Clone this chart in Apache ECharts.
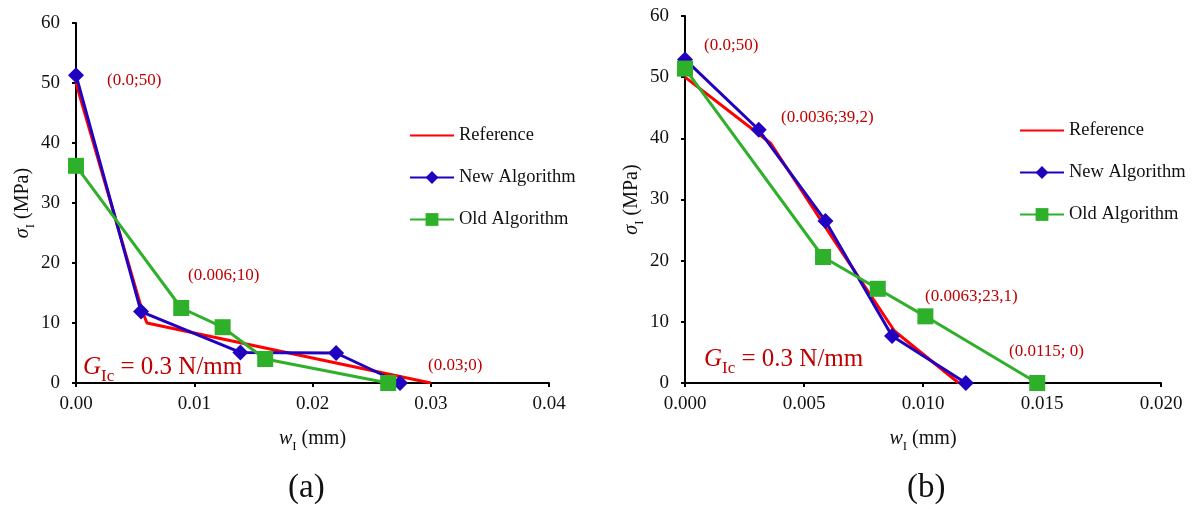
<!DOCTYPE html>
<html>
<head>
<meta charset="utf-8">
<script src="https://cdn.jsdelivr.net/npm/echarts@6/dist/echarts.min.js"></script>
<style>
  html, body { margin: 0; padding: 0; background: #fff; }
  #main { width: 1198px; height: 509px; }
</style>
</head>
<body>
<div id="main"></div>
<script>
// (a) data: [w, sigma]
var refA = [[0, 50], [0.0056, 12], [0.006, 10], [0.03, 0]];
var newA = [[0, 51.3], [0.0055, 11.9], [0.0139, 5.1], [0.022, 5.0], [0.0274, 0]];
var oldA = [[0, 36.2], [0.0089, 12.5], [0.0124, 9.3], [0.016, 4.0], [0.0264, 0]];
// (b)
var refB = [[0, 50], [0.0036, 39.2], [0.0063, 23.1], [0.0088, 8.5], [0.0115, 0]];
var newB = [[0, 52.9], [0.0031, 41.4], [0.0059, 26.5], [0.0087, 7.7], [0.0118, 0]];
var oldB = [[0, 51.4], [0.0058, 20.6], [0.0081, 15.4], [0.0101, 10.9], [0.0148, 0]];

var names = ['Reference', 'New Algorithm', 'Old Algorithm'];
var xMaxA = 0.04, xStepA = 0.01;
var xMaxB = 0.02, xStepB = 0.005;
var yMax = 60, yStep = 10;

var serif = 'Liberation Serif';
var RED = '#ff0000', BLUE = '#2200c0', GREEN = '#2fb02a', DARKRED = '#c00000';

var myChart = echarts.init(document.getElementById('main'));

var subRich = {
    i: { fontFamily: serif, fontStyle: 'italic', fontSize: 20, color: '#111', verticalAlign: 'bottom', padding: [0, 0, 4, 0] },
    s: { fontFamily: serif, fontSize: 13, color: '#111', verticalAlign: 'bottom' },
    t: { fontFamily: serif, fontSize: 20, color: '#111', verticalAlign: 'bottom', padding: [0, 0, 4, 0] }
};

function xAxisOf(idx, max, step, digits) {
    return {
        type: 'value', gridIndex: idx, min: 0, max: max, interval: step,
        name: '{i|w}{s|I}{t| (mm)}',
        nameLocation: 'middle', nameGap: 46,
        nameTextStyle: { rich: subRich },
        axisLine: { lineStyle: { color: '#000', width: 2 } },
        axisTick: { show: true, inside: false, length: 4, lineStyle: { color: '#000', width: 2 } },
        axisLabel: {
            color: '#111', fontFamily: serif, fontSize: 19, margin: 12,
            formatter: function (v) { return v.toFixed(digits); }
        },
        splitLine: { show: false }
    };
}
function yAxisOf(idx) {
    return {
        type: 'value', gridIndex: idx, min: 0, max: yMax, interval: yStep,
        name: '{i|σ}{s|I}{t| (MPa)}',
        nameLocation: 'middle', nameGap: 39, nameRotate: 90,
        nameTextStyle: { rich: subRich },
        axisLine: { show: true, lineStyle: { color: '#000', width: 2 } },
        axisTick: { show: true, inside: false, length: 4, lineStyle: { color: '#000', width: 2 } },
        axisLabel: { color: '#111', fontFamily: serif, fontSize: 19, margin: 16 },
        splitLine: { show: false }
    };
}

function seriesOf(idx, ref, nw, od) {
    return [
        { name: names[0], type: 'line', xAxisIndex: idx, yAxisIndex: idx, data: ref,
          showSymbol: false, symbol: 'none', lineStyle: { color: RED, width: 3 }, itemStyle: { color: RED } },
        { name: names[1], type: 'line', xAxisIndex: idx, yAxisIndex: idx, data: nw,
          symbol: 'diamond', symbolSize: 16, lineStyle: { color: BLUE, width: 3 }, itemStyle: { color: BLUE } },
        { name: names[2], type: 'line', xAxisIndex: idx, yAxisIndex: idx, data: od,
          symbol: 'rect', symbolSize: 16, lineStyle: { color: GREEN, width: 3 }, itemStyle: { color: GREEN } }
    ];
}

function legendAt(left, top) {
    return {
        data: [
            { name: names[0], itemStyle: { opacity: 0 } },
            { name: names[1] },
            { name: names[2] }
        ],
        orient: 'vertical', left: left, top: top,
        itemWidth: 44, itemHeight: 16, itemGap: 23, selectedMode: false,
        textStyle: { fontFamily: serif, fontSize: 18.5, color: '#111' }
    };
}

function note(text, left, top) {
    return { type: 'text', left: left, top: top,
             style: { text: text, fill: DARKRED, font: '17px "Liberation Serif"' } };
}
function gic(left, top) {
    return { type: 'text', left: left, top: top,
             style: { text: '{g|G}{s|Ic}{n| = 0.3 N/mm}',
                      rich: {
                          g: { fontFamily: serif, fontStyle: 'italic', fontSize: 25, fill: DARKRED, verticalAlign: 'bottom', padding: [0, 0, 5, 0] },
                          s: { fontFamily: serif, fontSize: 17, fill: DARKRED, verticalAlign: 'bottom' },
                          n: { fontFamily: serif, fontSize: 25, fill: DARKRED, verticalAlign: 'bottom', padding: [0, 0, 5, 0] }
                      } } };
}

var option = {
    backgroundColor: '#fff',
    animation: false,
    grid: [
        { left: 76, top: 23, width: 473, height: 360 },
        { left: 685, top: 16, width: 476, height: 367 }
    ],
    xAxis: [xAxisOf(0, xMaxA, xStepA, 2), xAxisOf(1, xMaxB, xStepB, 3)],
    yAxis: [yAxisOf(0), yAxisOf(1)],
    legend: [legendAt(404, 121), legendAt(1014, 116)],
    series: seriesOf(0, refA, newA, oldA).concat(seriesOf(1, refB, newB, oldB)),
    graphic: [
        note('(0.0;50)', 107, 72),
        note('(0.006;10)', 188, 267),
        note('(0.03;0)', 428, 357),
        gic(83, 355),
        note('(0.0;50)', 704, 37),
        note('(0.0036;39,2)', 781, 109),
        note('(0.0063;23,1)', 925, 288),
        note('(0.0115; 0)', 1009, 343),
        gic(704, 347),
        { type: 'text', left: 288, top: 472, style: { text: '(a)', fill: '#111', font: '33px "Liberation Serif"' } },
        { type: 'text', left: 907, top: 472, style: { text: '(b)', fill: '#111', font: '33px "Liberation Serif"' } }
    ]
};

myChart.setOption(option);
</script>
</body>
</html>
